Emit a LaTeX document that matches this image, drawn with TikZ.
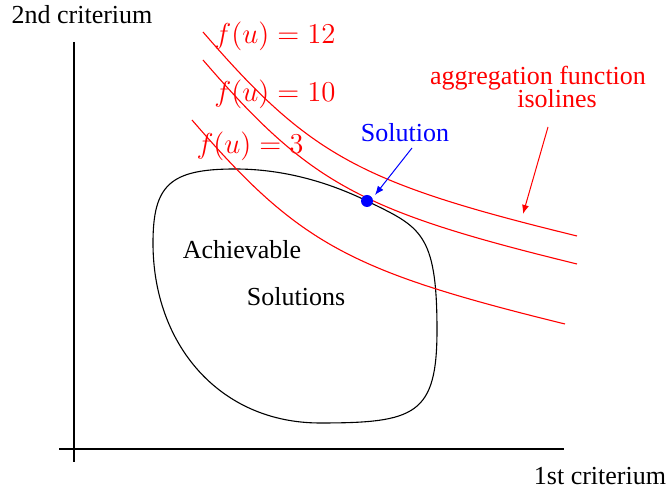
\documentclass[tikz,border=0pt]{standalone}
\usepackage[no-math]{fontspec}
\setmainfont{Liberation Serif}
\usetikzlibrary{arrows.meta}
\begin{document}
\begin{tikzpicture}[x=0.5pt,y=-0.5pt,
  every node/.style={inner sep=0pt,font=\fontsize{13}{15}\selectfont},
  axis/.style={black,line width=0.55pt},
  isoline/.style={red,line width=0.55pt},
  region/.style={black,line width=0.55pt},
  redlabel/.style={text=red},
  mathlabel/.style={text=red,font=\fontsize{14}{16}\selectfont},
  bluelabel/.style={text=blue},
  pointer/.style={line width=0.5pt,-{Latex[length=4.5pt,width=3.5pt]}}]
\useasboundingbox (0,0) rectangle (666,490);
% axes
\coordinate (ytop) at (74,42);
\coordinate (ybot) at (74,462);
\coordinate (xleft) at (59,449);
\coordinate (xright) at (564,449);
\draw[axis] (ytop) -- (ybot);
\draw[axis] (xleft) -- (xright);
\node (ylab) at (82,15) {2nd criterium};
\node (xlab) at (600,476) {1st criterium};
% achievable region
\draw[region] (153,243) .. controls (153,185) and (170,169) .. (235,169)
  .. controls (285,169) and (330,183) .. (367,201)
  .. controls (420,227) and (437,232) .. (437,330)
  .. controls (437,415) and (415,423) .. (320,423)
  .. controls (220,423) and (153,345) .. cycle;
% isolines
\draw[isoline] (203,32) .. controls (310,156) and (360,183) .. (577,236);
\draw[isoline] (203,60) .. controls (310,184) and (360,211) .. (577,264);
\draw[isoline] (192,120) .. controls (299,244) and (349,271) .. (565,324);
% labels
\node[mathlabel] (f12) at (275,36) {$f(u)=12$};
\node[mathlabel] (f10) at (275,94) {$f(u)=10$};
\node[mathlabel] (f3) at (250,146) {$f(u)=3$};
\node (ach) at (242,250) {Achievable};
\node (sol) at (296,297) {Solutions};
\node[redlabel] (agg1) at (538,78) {aggregation function};
\node[redlabel] (agg2) at (557,99) {isolines};
\node[bluelabel] (soltxt) at (405,133) {Solution};
% solution point
\fill[blue] (367,201) circle[radius=6];
\node[circle,minimum size=6pt] (dot) at (367,201) {};
% pointers
\coordinate (redtip) at (523,214);
\coordinate (redstart) at (548,127);
\draw[pointer,red] (redstart) -- (redtip);
\coordinate (bluestart) at (412,148);
\coordinate (bluetip) at (375,195);
\draw[pointer,blue] (bluestart) -- (bluetip);
\end{tikzpicture}
\end{document}
